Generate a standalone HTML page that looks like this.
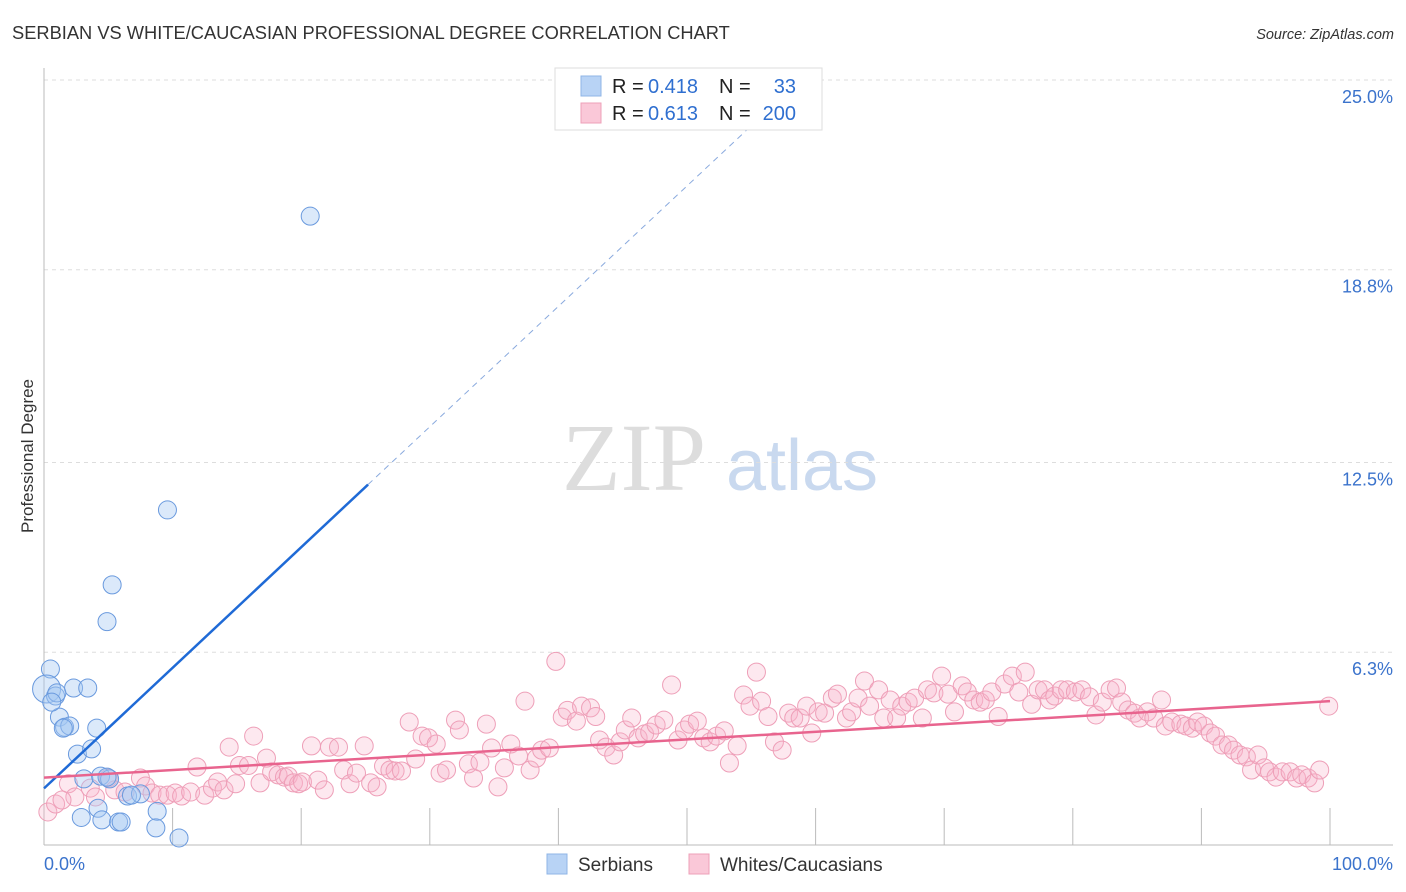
<!DOCTYPE html>
<html><head><meta charset="utf-8"><style>
body{margin:0;background:#fff;font-family:"Liberation Sans",sans-serif}
svg{display:block}
</style></head><body>
<svg id="chart" width="1406" height="892" viewBox="0 0 1406 892" xmlns="http://www.w3.org/2000/svg">
<text x="12" y="39" font-size="18.3" fill="#333" font-family="Liberation Sans, sans-serif">SERBIAN VS WHITE/CAUCASIAN PROFESSIONAL DEGREE CORRELATION CHART</text>
<text x="1394" y="39" font-size="14.5" fill="#333" font-style="italic" text-anchor="end">Source: ZipAtlas.com</text>
<g id="watermark">
<text x="634" y="490" font-size="96" fill="#ddd" font-family="Liberation Serif, serif" text-anchor="middle">ZIP</text>
<text x="802" y="490" font-size="72" fill="#c9d9ef" text-anchor="middle">atlas</text>
</g>
<g id="grid"></g>
<g id="axes"></g>
<g id="pinkpts"></g>
<g id="bluepts"></g>
<g id="trends"></g>
<text transform="translate(33,456) rotate(-90)" font-size="17" fill="#333" text-anchor="middle">Professional Degree</text>
<g>
<rect x="555" y="68" width="267" height="62" fill="#fff" stroke="#ddd"/>
<rect x="581" y="76" width="20" height="20" fill="#b8d3f5" stroke="#8fb4e6"/>
<rect x="581" y="103" width="20" height="20" fill="#fac8d8" stroke="#eea0b8"/>
<text x="612" y="93" font-size="20" fill="#222">R = <tspan x="648" fill="#2f6fd0">0.418</tspan><tspan x="719">N =</tspan><tspan x="796" text-anchor="end" fill="#2f6fd0">33</tspan></text>
<text x="612" y="120" font-size="20" fill="#222">R = <tspan x="648" fill="#2f6fd0">0.613</tspan><tspan x="719">N =</tspan><tspan x="796" text-anchor="end" fill="#2f6fd0">200</tspan></text>
</g>
<g>
<rect x="547" y="854" width="20" height="20" fill="#b8d3f5" stroke="#8fb4e6"/>
<text x="578" y="871" font-size="19" fill="#333">Serbians</text>
<rect x="689" y="854" width="20" height="20" fill="#fac8d8" stroke="#eea0b8"/>
<text x="720" y="871" font-size="19" fill="#333">Whites/Caucasians</text>
</g>
</svg>
<script>
const yTicks=[25.0,18.8,12.5,6.3];
const yTickLabels=["25.0%","18.8%","12.5%","6.3%"];
const xTickLabels=["0.0%","100.0%"];
const blueX=[0.5,0.2,0.9,1.0,2.3,3.4,1.2,1.6,2.0,1.5,4.1,2.6,3.7,3.1,4.4,5.1,4.9,4.2,2.9,4.5,5.8,6.0,6.5,7.5,6.8,8.8,8.7,10.5,9.6,20.7,5.3,4.9,0.6];
const blueY=[5.75,5.1,4.87,4.97,5.13,5.13,4.18,3.85,3.89,3.82,3.82,2.97,3.14,2.16,2.25,2.16,2.22,1.2,0.9,0.82,0.75,0.75,1.6,1.67,1.63,1.1,0.56,0.23,10.95,20.55,8.5,7.3,4.67];
const blueR=[9,14,9,9,9,9,9,9,9,9,9,9,9,9,9,9,9,9,9,9,9,9,9,9,9,9,9,9,9,9,9,9,9];
const pinkX=[0.3,0.9,1.9,2.4,1.4,3.6,4.0,5.0,5.5,6.3,7.5,7.9,8.4,9.0,9.6,10.2,10.7,11.4,11.9,12.5,13.1,13.5,14.0,14.4,14.9,15.2,15.9,16.3,16.8,17.3,17.7,18.2,18.7,19.0,19.4,19.8,20.1,20.8,21.3,21.8,22.2,22.9,23.3,23.8,24.3,24.9,25.4,25.9,26.4,26.9,27.3,27.8,28.4,28.9,29.4,29.9,30.5,30.8,31.3,32.0,32.3,33.0,33.4,33.9,34.4,34.8,35.3,35.8,36.3,36.9,37.4,37.8,38.3,38.7,39.3,39.8,40.3,40.7,41.4,41.8,42.5,42.9,43.2,43.7,44.3,44.8,45.2,45.7,46.2,46.7,47.1,47.6,48.2,48.8,49.3,49.8,50.2,50.8,51.3,51.8,52.3,52.9,53.3,53.9,54.4,54.9,55.4,55.8,56.3,56.8,57.4,57.9,58.3,58.8,59.3,59.7,60.2,60.7,61.3,61.7,62.4,62.8,63.3,63.8,64.2,64.9,65.3,65.8,66.3,66.7,67.2,67.7,68.3,68.7,69.2,69.8,70.3,70.8,71.4,71.8,72.3,72.8,73.2,73.7,74.2,74.7,75.3,75.8,76.3,76.8,77.3,77.8,78.2,78.6,79.1,79.6,80.2,80.7,81.3,81.8,82.3,82.9,83.4,83.8,84.3,84.8,85.2,85.8,86.3,86.9,87.2,87.7,88.4,88.8,89.3,89.7,90.2,90.7,91.1,91.6,92.1,92.5,93.0,93.5,93.9,94.4,94.9,95.3,95.8,96.3,96.9,97.4,97.8,98.3,98.8,99.2,99.9];
const pinkY=[1.08,1.34,2.0,1.57,1.47,1.86,1.57,2.19,1.8,1.73,2.19,1.93,1.7,1.63,1.63,1.7,1.6,1.73,2.55,1.63,1.86,2.06,1.8,3.2,2.0,2.6,2.6,3.56,2.03,2.84,2.39,2.29,2.22,2.25,2.03,2.0,2.06,3.24,2.12,1.8,3.2,3.2,2.45,2.0,2.35,3.24,2.03,1.9,2.58,2.45,2.42,2.42,4.02,2.81,3.56,3.5,3.3,2.35,2.45,4.08,3.76,2.65,2.19,2.71,3.95,3.17,1.9,2.52,3.3,2.91,4.7,2.45,2.84,3.1,3.17,6.0,4.18,4.4,4.05,4.54,4.48,4.2,3.43,3.2,2.94,3.37,3.76,4.15,3.5,3.63,3.69,3.92,4.08,5.23,3.43,3.76,3.95,4.05,3.5,3.37,3.56,3.73,2.68,3.24,4.9,4.54,5.65,4.7,4.2,3.37,3.1,4.31,4.15,4.15,4.54,3.66,4.35,4.31,4.8,4.93,4.15,4.35,4.8,5.36,4.54,5.07,4.15,4.74,4.15,4.54,4.67,4.8,4.15,5.07,4.97,5.52,4.93,4.35,5.2,5.0,4.74,4.67,4.74,5.0,4.2,5.26,5.52,5.0,5.65,4.6,5.07,5.07,4.74,4.87,5.07,5.07,5.0,5.07,4.84,4.25,4.67,5.07,5.13,4.67,4.41,4.31,4.15,4.35,4.15,4.74,3.89,4.02,3.95,3.89,3.82,4.02,3.89,3.66,3.56,3.27,3.27,3.1,2.94,2.88,2.45,2.94,2.52,2.39,2.22,2.39,2.39,2.19,2.29,2.19,2.03,2.45,4.54];
const blueTrend=[[0,1.85],[25.2,11.78],[58.8,25.0]];
const pinkTrend=[[0,2.2],[100,4.7]];

const NS="http://www.w3.org/2000/svg";
const X0=44,X1=1330,Y0=845,YPER=30.6;
const sx=v=>X0+(X1-X0)*v/100;
const sy=v=>Y0-v*YPER;
function mk(tag,attrs,parent){const e=document.createElementNS(NS,tag);for(const k in attrs)e.setAttribute(k,attrs[k]);parent.appendChild(e);return e;}
const grid=document.getElementById('grid'),axes=document.getElementById('axes');
yTicks.forEach((t,i)=>{
  const l=mk('line',{x1:44,x2:1393,y1:sy(t),y2:sy(t),stroke:'#ddd','stroke-dasharray':'4,4'},grid);
  
  
  const tx=mk('text',{x:1393,y:sy(t)+23,'font-size':18,fill:'#3b73cc','text-anchor':'end'},grid);
  tx.textContent=yTickLabels[i];
  
  
});
const ya=mk('line',{x1:44,x2:44,y1:68,y2:845,stroke:'#bbb'},axes);


const xa=mk('line',{x1:44,x2:1393,y1:845,y2:845,stroke:'#bbb'},axes);


for(let i=1;i<=10;i++){
  const tk=mk('line',{x1:sx(i*10),x2:sx(i*10),y1:808,y2:845,stroke:'#bbb'},axes);
  
  
}
[[0,'start',44],[1,'end',1393]].forEach(([i,a,x])=>{
  const t=mk('text',{x:x,y:870,'font-size':18,fill:'#3b73cc','text-anchor':a},axes);
  t.textContent=xTickLabels[i];
  
  
});
const pg=document.getElementById('pinkpts');
pinkX.forEach((x,i)=>{
  const c=mk('circle',{cx:sx(x),cy:sy(pinkY[i]),r:9,fill:'rgba(248,180,202,0.3)',stroke:'#ee9fb8','stroke-width':1},pg);
  
  
});
const bg=document.getElementById('bluepts');
blueX.forEach((x,i)=>{
  const c=mk('circle',{cx:sx(x),cy:sy(blueY[i]),r:blueR[i],fill:'rgba(165,200,242,0.4)',stroke:'#6a9ade','stroke-width':1},bg);
  
  
});
const tg=document.getElementById('trends');
const b1=mk('line',{x1:sx(blueTrend[0][0]),y1:sy(blueTrend[0][1]),x2:sx(blueTrend[1][0]),y2:sy(blueTrend[1][1]),stroke:'#1f6ad6','stroke-width':2.5},tg);


const b2=mk('line',{x1:sx(blueTrend[1][0]),y1:sy(blueTrend[1][1]),x2:sx(blueTrend[2][0]),y2:sy(blueTrend[2][1]),stroke:'#8aaade','stroke-width':1,'stroke-dasharray':'6,5'},tg);


const p1=mk('line',{x1:sx(pinkTrend[0][0]),y1:sy(pinkTrend[0][1]),x2:sx(pinkTrend[1][0]),y2:sy(pinkTrend[1][1]),stroke:'#e8648e','stroke-width':2.5},tg);


</script>
</body></html>
